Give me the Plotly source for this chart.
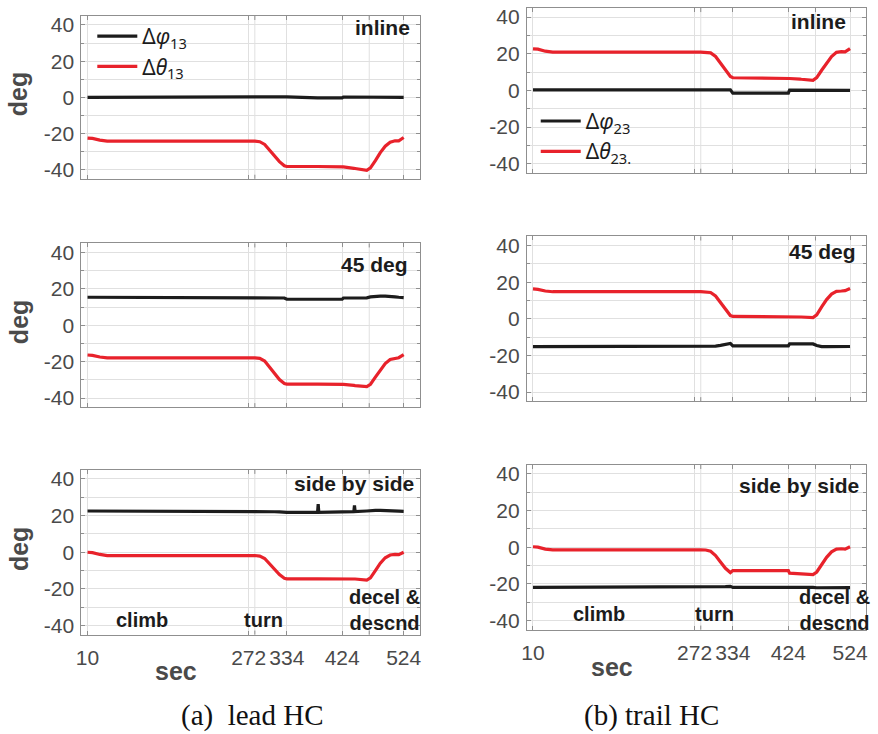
import plotly.graph_objects as go

# ---------------- data ----------------
time_s = [10, 18, 30, 42, 282, 290, 298, 306, 314, 322, 330, 334, 384, 385, 386,
          424, 426, 443, 444, 445, 464, 470, 478, 486, 494, 502, 510, 516, 524]

# lead HC (a)
lead_inline_phi = [0, 0, 0, 0, 0, 0, 0, 0, 0, 0, 0.1, 0.3, -0.3, -0.3, -0.3,
                   -0.3, 0.2, 0.2, 0.2, 0.2, 0.2, 0.2, 0.1, 0.1, 0.1, 0.1, 0.1, 0.1, 0]
lead_inline_theta = [-22.5, -22.7, -23.6, -24.2, -24.2, -24.5, -26, -29, -32.5, -35.5, -37.8, -38.2, -38.2, -38.2, -38.2,
                     -38.2, -38.4, -39.2, -39.2, -39.3, -40.3, -39.0, -35, -30.5, -27, -24.8, -24, -24, -22.2]
lead_45_phi = [15.4, 15.4, 15.4, 15.4, 15.4, 15.4, 15.3, 15.2, 15.1, 15.0, 15.0, 14.3, 14.3, 14.3, 14.3,
               14.3, 15.0, 15.1, 15.1, 15.1, 15.1, 15.6, 16, 16, 16, 16, 15.6, 15.4, 15.2]
lead_45_theta = [-16.3, -16.5, -17.4, -17.9, -17.9, -18.2, -19.6, -22.8, -26.5, -29.8, -32, -32.3, -32.3, -32.3, -32.3,
                 -32.3, -32.5, -33, -33, -33.1, -33.7, -32.4, -28.5, -24.5, -21, -18.8, -18, -17.8, -16.1]
lead_side_phi = [22.5, 22.5, 22.5, 22.5, 22.5, 22.5, 22.4, 22.3, 22.1, 22.0, 21.9, 21.8, 21.8, 26.2, 21.8,
                 21.8, 22.2, 22.2, 25.6, 22.2, 22.5, 22.8, 22.8, 22.8, 22.8, 22.8, 22.6, 22.4, 22.3]
lead_side_theta = [0, -0.2, -1.2, -1.8, -1.8, -2.1, -3.4, -6.2, -9.3, -12.2, -14.2, -14.5, -14.5, -14.5, -14.5,
                   -14.5, -14.4, -14.6, -14.6, -14.6, -15.2, -14, -10, -6, -3, -1.5, -1.2, -1.3, 0]

# trail HC (b)
trail_inline_phi = [0.3, 0.3, 0.3, 0.3, 0.3, 0.3, 0.3, 0.3, 0.3, 0.3, 0.3, -1.5, -1.5, -1.5, -1.5,
                    -1.5, 0.2, 0.2, 0.2, 0.2, 0.2, 0.2, 0.1, 0.1, 0.1, 0.1, 0.1, 0.1, 0]
trail_inline_theta = [22.7, 22.5, 21.4, 20.9, 20.9, 20.9, 20.5, 18.5, 15, 11, 7.6, 6.9, 6.9, 6.9, 6.9,
                      6.9, 6.5, 6.2, 6.2, 6.1, 5.5, 7, 11, 15, 18.5, 20.8, 21.2, 21, 22.8]
trail_45_phi = [-15.2, -15.2, -15.2, -15.2, -15.2, -15.2, -15.1, -14.9, -14.5, -13.8, -13.4, -14.8, -14.8, -14.8, -14.8,
                -14.8, -13.7, -13.6, -13.6, -13.6, -13.7, -14.6, -15.2, -15.2, -15.2, -15.2, -15.2, -15.2, -15.1]
trail_45_theta = [16.3, 16.1, 15.2, 14.8, 14.8, 14.8, 14.4, 12.5, 9, 5, 1.8, 1.3, 1.3, 1.3, 1.3,
                  1.3, 1.2, 1, 1, 1, 0.7, 2.2, 6.5, 10.5, 13.5, 15, 15.2, 15.4, 16.6]
trail_side_phi = [-21.9, -21.9, -21.9, -21.9, -21.9, -21.9, -21.9, -21.9, -21.8, -21.5, -21.3, -21.9, -21.9, -21.9, -21.9,
                  -21.9, -21.5, -21.5, -21.5, -21.6, -21.9, -22.1, -22.1, -22.1, -22.1, -22.1, -22.1, -22.1, -22.0]
trail_side_theta = [0.3, 0.1, -1, -1.4, -1.4, -1.5, -2.2, -4.5, -8, -11.5, -13.8, -12.7, -12.7, -12.7, -12.7,
                    -12.7, -14.1, -14.3, -14.3, -14.3, -14.9, -13.5, -9.5, -5.5, -2.5, -1, -0.8, -1, 0.3]

x_tick_vals = [10, 272, 334, 424, 524]
x_tick_text = ["10", "272", "334", "424", "524"]
x_extra_grid = [282, 468]
y_tick_vals = [-40, -20, 0, 20, 40]
y_tick_text = ["-40", "-20", "0", "20", "40"]
panel_titles = ["inline", "45 deg", "side by side"]
phase_labels = ["climb", "turn", "decel &<br>descnd"]
legend_lead = ["Δ<i>φ</i><sub>13</sub>", "Δ<i>θ</i><sub>13</sub>"]
legend_trail = ["Δ<i>φ</i><sub>23</sub>", "Δ<i>θ</i><sub>23.</sub>"]
captions = ["(a)  lead HC", "(b) trail HC"]

# ---------------- layout geometry ----------------
W, H = 878, 734
def px_x(p): return p / W
def px_y(p): return 1 - p / H

panels = [
    (lead_inline_phi, lead_inline_theta, (77, 418), (13, 177), 0, False, 0),
    (lead_45_phi, lead_45_theta, (77, 418), (242, 407), 1, False, 0),
    (lead_side_phi, lead_side_theta, (77, 418), (470, 636), 2, True, 0),
    (trail_inline_phi, trail_inline_theta, (526, 868), (5, 171), 0, False, 1),
    (trail_45_phi, trail_45_theta, (526, 868), (235, 401), 1, False, 1),
    (trail_side_phi, trail_side_theta, (526, 868), (465, 631), 2, True, 1),
]

title_pos = {
    (0, 0): (0.978, 0.927), (0, 1): (0.970, 0.869), (0, 2): (0.988, 0.916),
    (1, 0): (0.948, 0.920), (1, 1): (0.975, 0.909), (1, 2): (0.984, 0.872),
}
phase_pos = {
    0: [(0.179, 0.086), (0.537, 0.086), (0.896, 0.151)],
    1: [(0.212, 0.094), (0.553, 0.094), (0.908, 0.120)],
}

BLACK = "#1c1c1c"
RED = "#e8222b"
TICKC = "#4a4a4a"
GRID = "#e0e0e0"
AXLINE = "#8f8f8f"

fig = go.Figure()
layout = {}
annotations = []
shapes = []

for i, (phi, theta, xr, yr, ti, is_bottom, col) in enumerate(panels):
    n = i + 1
    xa = "xaxis" if n == 1 else f"xaxis{n}"
    ya = "yaxis" if n == 1 else f"yaxis{n}"
    xref = "x" if n == 1 else f"x{n}"
    yref = "y" if n == 1 else f"y{n}"

    leg = "legend"
    names = [None, None]
    showleg = False
    if n == 1:
        leg, names, showleg = "legend", legend_lead, True
    elif n == 4:
        leg, names, showleg = "legend2", legend_trail, True

    fig.add_trace(go.Scatter(
        x=time_s, y=phi, mode="lines", line=dict(color=BLACK, width=3.2),
        xaxis=xref, yaxis=yref, name=names[0], showlegend=showleg, legend=leg))
    fig.add_trace(go.Scatter(
        x=time_s, y=theta, mode="lines", line=dict(color=RED, width=3.2),
        xaxis=xref, yaxis=yref, name=names[1], showlegend=showleg, legend=leg))

    # extra (unlabelled) vertical grid lines with ticks
    for gx in x_extra_grid:
        shapes.append(dict(type="line", xref=xref, yref=f"{yref} domain",
                           x0=gx, x1=gx, y0=0, y1=1, layer="below",
                           line=dict(color=GRID, width=1)))
        for y0, y1 in [(0, 0.025), (0.975, 1)]:
            shapes.append(dict(type="line", xref=xref, yref=f"{yref} domain",
                               x0=gx, x1=gx, y0=y0, y1=y1, layer="above",
                               line=dict(color=AXLINE, width=1)))

    layout[xa] = dict(
        domain=[px_x(xr[0]), px_x(xr[1])], anchor=yref, range=[0, 550],
        tickmode="array", tickvals=x_tick_vals, ticktext=x_tick_text,
        showticklabels=is_bottom, ticks="inside", ticklen=4, tickcolor=AXLINE,
        showgrid=True, gridcolor=GRID, gridwidth=1, zeroline=False,
        showline=True, linecolor=AXLINE, linewidth=1, mirror="allticks",
        tickfont=dict(family="Liberation Sans, Arial", size=21, color=TICKC),
        ticklabelstandoff=4,
    )
    layout[ya] = dict(
        domain=[px_y(yr[1]), px_y(yr[0])], anchor=xref, range=[-45, 45],
        tickmode="array", tickvals=y_tick_vals, ticktext=y_tick_text,
        ticks="inside", ticklen=4, tickcolor=AXLINE,
        showgrid=True, gridcolor=GRID, gridwidth=1, zeroline=False,
        showline=True, linecolor=AXLINE, linewidth=1, mirror="allticks",
        tickfont=dict(family="Liberation Sans, Arial", size=21, color=TICKC),
        minor=dict(dtick=10, tick0=0, showgrid=True, gridcolor=GRID,
                   ticks="inside", ticklen=3, tickcolor=AXLINE),
        ticklabelstandoff=2,
    )

    tx, ty = title_pos[(col, ti)]
    annotations.append(dict(
        text=f"<b>{panel_titles[ti]}</b>", x=tx, y=ty,
        xref=f"{xref} domain", yref=f"{yref} domain",
        xanchor="right", yanchor="middle", showarrow=False,
        font=dict(family="Liberation Sans, Arial", size=21, color=BLACK)))

    if is_bottom:
        for (px_, py_), lab in zip(phase_pos[col], phase_labels):
            annotations.append(dict(
                text=f"<b>{lab}</b>", x=px_, y=py_,
                xref=f"{xref} domain", yref=f"{yref} domain",
                xanchor="center", yanchor="middle", showarrow=False,
                font=dict(family="Liberation Sans, Arial", size=20, color=BLACK)))

    if col == 0:
        annotations.append(dict(
            text="<b>deg</b>", x=px_x(22), y=px_y((yr[0] + yr[1]) / 2 - 3),
            xref="paper", yref="paper", textangle=-90, showarrow=False,
            xanchor="center", yanchor="middle", xshift=-8,
            font=dict(family="Liberation Sans, Arial", size=25, color="#4a4a4a")))

# x axis titles
for (sx, sy) in [(172, 673), (612, 669)]:
    annotations.append(dict(
        text="<b>sec</b>", x=px_x(sx), y=px_y(sy), xref="paper", yref="paper",
        showarrow=False, xanchor="center", yanchor="middle",
        font=dict(family="Liberation Sans, Arial", size=25, color="#4a4a4a")))

# captions
for (cx, cy), cap in zip([(249, 717), (652, 717)], captions):
    annotations.append(dict(
        text=cap, x=px_x(cx), y=px_y(cy), xref="paper", yref="paper",
        showarrow=False, xanchor="center", yanchor="middle",
        font=dict(family="Liberation Serif, Times New Roman", size=29, color="#111111")))

legend_font = dict(family="Noto Sans, DejaVu Sans", size=21, color=BLACK)
fig.update_layout(
    width=W, height=H, margin=dict(l=0, r=0, t=0, b=0),
    paper_bgcolor="white", plot_bgcolor="white",
    annotations=annotations, shapes=shapes,
    legend=dict(x=px_x(88), y=px_y(13), xanchor="left", yanchor="top",
                bgcolor="rgba(255,255,255,0)", font=legend_font, itemwidth=40,
                tracegroupgap=0),
    legend2=dict(x=px_x(535), y=px_y(170), xanchor="left", yanchor="bottom",
                 bgcolor="rgba(255,255,255,0)", font=legend_font, itemwidth=40,
                 tracegroupgap=0),
    **layout,
)

fig.write_html("out.html")
